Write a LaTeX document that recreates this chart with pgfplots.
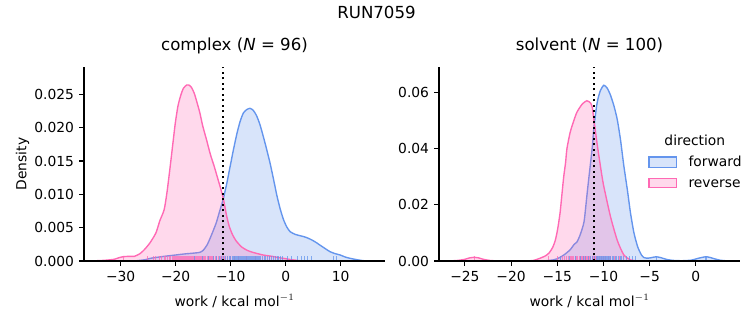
\documentclass[border=0pt]{standalone}
\usepackage{fontspec}
\setmainfont{DejaVu Sans}
\usepackage{pgfplots}
\pgfplotsset{compat=1.18}
\usepackage{pgfplotstable}
\definecolor{fwd}{HTML}{6495ED}
\definecolor{rev}{HTML}{FF69B4}

\pgfplotstableread{
x y
-36.0 0
-35.0 0.00002
-33.0 0.0001
-31.2 0.00025
-30.3 0.0005
-29.5 0.00065
-28.4 0.0007
-27.5 0.0007
-26.5 0.0011
-25.7 0.0017
-24.7 0.0027
-23.6 0.0042
-22.9 0.0060
-22.1 0.0077
-21.6 0.0102
-21.1 0.0135
-20.6 0.0170
-20.1 0.0205
-19.6 0.0232
-19.1 0.0248
-18.6 0.0259
-18.0 0.0264
-17.6 0.0264
-17.1 0.0260
-16.6 0.0251
-16.1 0.0237
-15.6 0.0222
-15.1 0.0203
-14.4 0.0182
-13.7 0.0160
-13.0 0.0142
-12.4 0.0125
-11.8 0.0108
-11.3 0.0092
-10.8 0.0070
-10.3 0.0053
-9.7 0.0040
-9.0 0.0030
-8.0 0.0021
-7.0 0.0016
-6.0 0.0013
-4.1 0.0009
-2.5 0.0007
-1.2 0.0005
-0.4 0.0004
1.0 0.0002
2.0 0.0001
3.0 0
}\cxrev

\pgfplotstableread{
x y
-28.0 0
-27.0 0.00005
-25.5 0.0002
-24.6 0.0004
-23.0 0.0006
-22.1 0.0007
-20.0 0.0009
-18.5 0.00105
-16.5 0.0012
-15.6 0.0013
-15.0 0.0016
-14.3 0.0024
-13.8 0.0033
-13.2 0.0045
-12.6 0.0058
-12.0 0.0075
-11.35 0.0093
-10.7 0.0117
-10.1 0.0142
-9.5 0.0167
-8.9 0.0190
-8.3 0.0209
-7.7 0.0222
-7.1 0.0227
-6.5 0.0229
-5.9 0.0226
-5.3 0.0218
-4.7 0.0205
-4.05 0.0186
-3.45 0.0167
-2.85 0.0147
-2.2 0.0122
-1.6 0.0098
-1.0 0.0078
-0.4 0.0062
0.2 0.0051
0.8 0.0044
1.7 0.0040
2.6 0.0038
3.5 0.0036
4.4 0.0033
5.3 0.0029
6.2 0.0024
7.1 0.0019
8.05 0.0014
9.0 0.0011
9.9 0.0009
10.8 0.0006
11.7 0.0004
12.9 0.0002
14.1 0.00005
15.0 0
}\cxfwd

\pgfplotstableread{
x y
-27.5 0
-26.6 0.00005
-25.8 0.0002
-25.0 0.0006
-24.5 0.0011
-24.0 0.0013
-23.5 0.0011
-23.0 0.0006
-22.3 0.0002
-21.5 0.00005
-20.0 0
-18.5 0.00002
-17.6 0.0002
-16.85 0.0010
-16.3 0.0018
-15.9 0.0028
-15.5 0.0048
-15.2 0.0075
-14.95 0.0115
-14.7 0.0170
-14.5 0.0235
-14.3 0.0300
-14.1 0.0350
-13.95 0.0400
-13.6 0.0458
-13.2 0.0500
-12.86 0.0530
-12.3 0.0558
-11.8 0.0570
-11.4 0.0562
-11.2 0.0545
-11.05 0.0505
-10.9 0.0470
-10.7 0.0420
-10.5 0.0375
-10.2 0.0310
-9.96 0.0265
-9.24 0.0158
-8.5 0.0073
-7.8 0.0022
-7.07 0.0004
-6.3 0.00005
-5.5 0
}\svrev

\pgfplotstableread{
x y
-16.5 0
-15.4 0.0004
-15.0 0.0008
-14.3 0.0021
-13.6 0.0040
-13.2 0.0058
-12.86 0.0068
-12.5 0.0095
-12.1 0.0140
-11.8 0.0230
-11.6 0.0290
-11.2 0.0407
-11.05 0.0470
-10.7 0.0560
-10.35 0.0605
-9.96 0.0625
-9.6 0.0615
-9.24 0.0590
-8.85 0.0550
-8.5 0.0502
-8.15 0.0430
-7.8 0.0340
-7.4 0.0250
-7.07 0.0170
-6.7 0.0100
-6.3 0.0051
-5.9 0.0022
-5.6 0.0012
-5.2 0.0010
-4.8 0.0012
-4.3 0.0015
-3.8 0.0012
-3.1 0.0005
-2.4 0.0002
-1.5 0.0001
-0.5 0.0003
0.2 0.0009
0.7 0.0013
1.1 0.0015
1.5 0.0013
2.0 0.0008
2.6 0.0003
3.2 0.0001
4.0 0
}\svfwd

\pgfplotsset{
  panel/.style={
    scale only axis, width=3.01in, height=1.94in,
    axis x line*=bottom, axis y line*=left,
    axis line style={line width=0.8pt, black},
    tick align=outside, major tick length=3.5pt,
    every tick/.style={black, line width=0.8pt},
    minor tick num=0,
    ymin=0,
    xticklabel style={inner sep=0pt, anchor=north, yshift=-3.5pt, font=\fontsize{10}{12}\selectfont},
    yticklabel style={inner sep=0pt, anchor=east, xshift=-3.5pt, font=\fontsize{10}{12}\selectfont},
    scaled y ticks=false,
    title style={at={(axis description cs:0.5,1.043)}, anchor=base, font=\fontsize{12}{14}\selectfont},
    xlabel style={at={(axis description cs:0.5,-0.232)}, anchor=base, font=\fontsize{10}{12}\selectfont},
    xlabel={work / kcal mol$^{-1}$},
    axis on top,
    clip=true,
  },
  kde/.style={line width=1pt, fill opacity=0.25, draw opacity=1, smooth, tension=0.4},
  rug/.style={ycomb, line width=0.75pt, opacity=0.75, no markers},
}

\begin{document}
\begin{tikzpicture}
\path[use as bounding box] (0,0) rectangle (7.53in,3.25in);
\node[anchor=base, font=\fontsize{12}{14}\selectfont] at (3.765in,3.063in) {RUN7059};

\begin{axis}[panel,
  at={(0.84in,0.64in)}, anchor=south west,
  xmin=-36.67, xmax=18.05, ymax=0.0291,
  xtick={-30,-20,-10,0,10}, xticklabels={−30,−20,−10,0,10},
  ytick={0,0.005,0.01,0.015,0.02,0.025},
  yticklabels={0.000,0.005,0.010,0.015,0.020,0.025},
  title={complex (\textit{N} = 96)},
  ylabel={Density},
  ylabel style={at={(axis description cs:-0.2043,0.5)}, anchor=center, rotate=0, font=\fontsize{10}{12}\selectfont},
]
\addplot[kde, draw=fwd, fill=fwd] table[x=x,y=y] {\cxfwd} \closedcycle;
\addplot[kde, draw=rev, fill=rev] table[x=x,y=y] {\cxrev} \closedcycle;
\addplot[rug, rev] table[header=false, x index=0, y expr=0.00073, row sep=\\] {
-29.5\\ -25.2\\ -24.1\\ -23.6\\ -23.0\\ -22.6\\ -22.1\\ -21.8\\ -21.5\\ -21.2\\ -20.9\\ -20.6\\ -20.4\\ -20.2\\ -20.0\\ -19.8\\ -19.6\\ -19.4\\ -19.2\\ -19.0\\ -18.9\\ -18.7\\ -18.6\\ -18.4\\ -18.3\\ -18.1\\ -18.0\\ -17.9\\ -17.7\\ -17.6\\ -17.5\\ -17.3\\ -17.2\\ -17.1\\ -16.9\\ -16.8\\ -16.7\\ -16.5\\ -16.4\\ -16.2\\ -16.1\\ -15.9\\ -15.8\\ -15.6\\ -15.4\\ -15.3\\ -15.1\\ -14.9\\ -14.7\\ -14.5\\ -14.3\\ -14.1\\ -13.9\\ -13.6\\ -13.4\\ -13.1\\ -12.8\\ -12.5\\ -12.2\\ -11.9\\ -11.5\\ -11.1\\ -10.6\\ -10.0\\ -9.3\\ -8.5\\ -7.2\\ -5.5\\ -3.0\\
};
\addplot[rug, fwd] table[header=false, x index=0, y expr=0.00073, row sep=\\] {
-16.5\\ -15.2\\ -14.0\\ -13.2\\ -12.6\\ -12.1\\ -11.7\\ -11.3\\ -10.9\\ -10.6\\ -10.3\\ -10.0\\ -9.7\\ -9.4\\ -9.2\\ -9.0\\ -8.8\\ -8.6\\ -8.4\\ -8.2\\ -8.0\\ -7.8\\ -7.6\\ -7.4\\ -7.2\\ -7.0\\ -6.8\\ -6.6\\ -6.4\\ -6.2\\ -6.0\\ -5.8\\ -5.6\\ -5.4\\ -5.2\\ -5.0\\ -4.8\\ -4.5\\ -4.2\\ -3.9\\ -3.6\\ -3.3\\ -3.0\\ -2.6\\ -2.2\\ -1.8\\ -1.4\\ -1.0\\ -0.5\\ 0.4\\ 1.1\\ 2.2\\ 2.9\\ 3.5\\ 4.0\\ 4.7\\ 8.7\\ 9.3\\
};
\addplot[black, line width=1.5pt, dash pattern=on 1.5pt off 2.475pt] coordinates {(-11.4,0) (-11.4,0.0291)};
\end{axis}

\begin{axis}[panel,
  at={(4.39in,0.64in)}, anchor=south west,
  xmin=-27.8, xmax=4.78, ymax=0.069,
  xtick={-25,-20,-15,-10,-5,0}, xticklabels={−25,−20,−15,−10,−5,0},
  ytick={0,0.02,0.04,0.06},
  yticklabels={0.00,0.02,0.04,0.06},
  title={solvent (\textit{N} = 100)},
]
\addplot[kde, draw=fwd, fill=fwd] table[x=x,y=y] {\svfwd} \closedcycle;
\addplot[kde, draw=rev, fill=rev] table[x=x,y=y] {\svrev} \closedcycle;
\addplot[rug, rev] table[header=false, x index=0, y expr=0.00172, row sep=\\] {
-24.0\\ -16.0\\ -15.0\\ -14.6\\ -14.4\\ -14.2\\ -14.0\\ -13.8\\ -13.6\\ -13.5\\ -13.3\\ -13.2\\ -13.0\\ -12.9\\ -12.8\\ -12.6\\ -12.5\\ -12.4\\ -12.3\\ -12.2\\ -12.1\\ -12.0\\ -11.9\\ -11.8\\ -11.7\\ -11.6\\ -11.5\\ -11.4\\ -11.2\\ -11.1\\ -11.0\\ -10.9\\ -10.7\\ -10.6\\ -10.4\\ -10.2\\ -10.0\\ -9.8\\ -9.5\\ -9.2\\ -8.8\\ -8.3\\
};
\addplot[rug, fwd] table[header=false, x index=0, y expr=0.00172, row sep=\\] {
-14.6\\ -13.7\\ -13.0\\ -12.5\\ -12.2\\ -11.9\\ -11.6\\ -11.4\\ -11.2\\ -11.0\\ -10.8\\ -10.7\\ -10.5\\ -10.4\\ -10.3\\ -10.2\\ -10.1\\ -10.0\\ -9.9\\ -9.8\\ -9.7\\ -9.6\\ -9.5\\ -9.4\\ -9.3\\ -9.2\\ -9.0\\ -8.9\\ -8.7\\ -8.6\\ -8.4\\ -8.2\\ -8.0\\ -7.8\\ -7.5\\ -7.2\\ -6.9\\ -6.5\\ -4.3\\ 1.1\\
};
\addplot[black, line width=1.5pt, dash pattern=on 1.5pt off 2.475pt] coordinates {(-11.0,0) (-11.0,0.069)};
\end{axis}

% legend
\node[anchor=base, font=\fontsize{10}{12}\selectfont] at (6.948in,1.79in) {direction};
\draw[fwd, line width=1pt, fill=fwd, fill opacity=0.25] (6.49in,1.577in) rectangle (6.767in,1.68in);
\node[anchor=base west, inner sep=0pt, font=\fontsize{10}{12}\selectfont] at (6.883in,1.583in) {forward};
\draw[rev, line width=1pt, fill=rev, fill opacity=0.25] (6.49in,1.373in) rectangle (6.767in,1.467in);
\node[anchor=base west, inner sep=0pt, font=\fontsize{10}{12}\selectfont] at (6.883in,1.373in) {reverse};
\end{tikzpicture}
\end{document}
